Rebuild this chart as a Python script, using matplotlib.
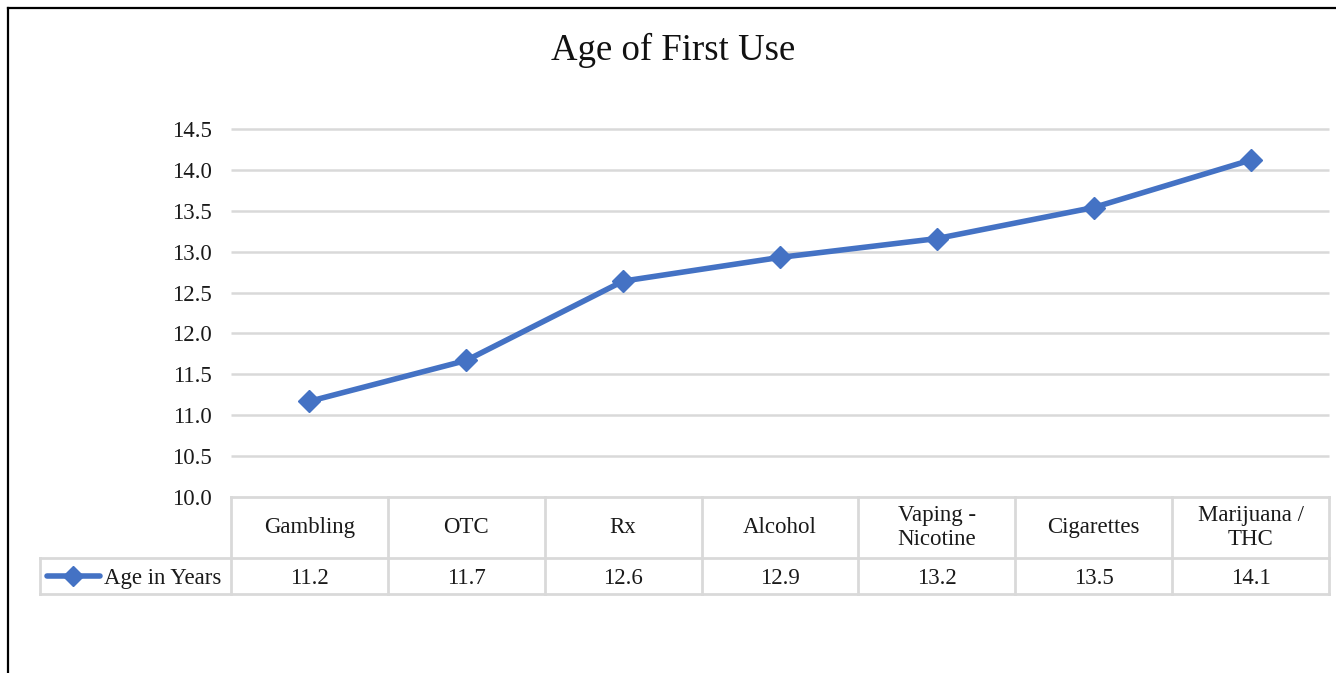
import matplotlib
matplotlib.use("Agg")
import matplotlib.pyplot as plt
from matplotlib.lines import Line2D

# Data
categories = ["Gambling", "OTC", "Rx", "Alcohol", "Vaping -\nNicotine", "Cigarettes", "Marijuana /\nTHC"]
ages = [11.17, 11.67, 12.64, 12.93, 13.16, 13.54, 14.12]
series_name = "Age in Years"
y_ticks = [10.0, 10.5, 11.0, 11.5, 12.0, 12.5, 13.0, 13.5, 14.0, 14.5]

W, H = 1336, 673
line_color = "#4472C4"
grid_color = "#d9d9d9"
text_color = "#1a1a1a"
font = "Liberation Serif"
fs = 16.5

plt.rcParams["font.family"] = [font, "DejaVu Serif"]

fig = plt.figure(figsize=(W / 100, H / 100), dpi=100)
fig.patch.set_facecolor("white")

# plot area in pixels
left_px, right_px, top_px, bottom_px = 231, 1329, 129, 497
ax = fig.add_axes([left_px / W, 1 - bottom_px / H, (right_px - left_px) / W, (bottom_px - top_px) / H])
ax.set_facecolor("white")

n = len(categories)
xs = list(range(n))
ax.plot(xs, ages, color=line_color, lw=4, marker="D", markersize=11.5,
        markerfacecolor=line_color, markeredgecolor=line_color, clip_on=False,
        solid_capstyle="round", zorder=5)

ax.set_xlim(-0.5, n - 0.5)
ax.set_ylim(y_ticks[0], y_ticks[-1])
ax.set_yticks(y_ticks)
ax.set_yticklabels([f"{t:.1f}" for t in y_ticks], fontsize=fs, color=text_color)
ax.set_xticks([])
ax.tick_params(axis="y", length=0, pad=14)
for s in ax.spines.values():
    s.set_visible(False)
for t in y_ticks[1:]:
    ax.axhline(t, color=grid_color, lw=1.8, zorder=1, clip_on=False, solid_capstyle="butt")

# Data table below the plot area
ph = bottom_px - top_px
r1 = -61 / ph   # bottom of header row
r2 = -97 / ph   # bottom of value row
leg_left = (40 - left_px) / (right_px - left_px)
tx = ax.get_xaxis_transform()
tbl_kw = dict(color=grid_color, lw=2, clip_on=False, zorder=2)

ax.plot([-0.5, n - 0.5], [0, 0], transform=tx, **tbl_kw)
ax.plot([leg_left, 1], [r1, r1], transform=ax.transAxes, **tbl_kw)
ax.plot([leg_left, 1], [r2, r2], transform=ax.transAxes, **tbl_kw)
ax.plot([leg_left, leg_left], [r1, r2], transform=ax.transAxes, **tbl_kw)
for i in range(n + 1):
    ax.plot([i - 0.5, i - 0.5], [0, r2], transform=tx, **tbl_kw)

for i, (c, v) in enumerate(zip(categories, ages)):
    ax.text(i, r1 / 2, c, transform=tx, ha="center", va="center",
            multialignment="center", fontsize=fs, color=text_color, linespacing=1.2)
    ax.text(i, (r1 + r2) / 2 - 0.006, f"{v:.1f}", transform=tx, ha="center", va="center",
            fontsize=fs, color=text_color)

# Legend key in the value row
ymid = (r1 + r2) / 2
kx0 = (47 - left_px) / (right_px - left_px)
kx1 = (100 - left_px) / (right_px - left_px)
ax.plot([kx0, kx1], [ymid, ymid], transform=ax.transAxes, color=line_color, lw=4,
        solid_capstyle="round", clip_on=False, zorder=5)
ax.plot([(kx0 + kx1) / 2], [ymid], transform=ax.transAxes, marker="D", markersize=10.5,
        color=line_color, clip_on=False, zorder=6)
ax.text((104 - left_px) / (right_px - left_px), ymid - 0.006, series_name, transform=ax.transAxes,
        ha="left", va="center", fontsize=fs, color=text_color)

# Title
fig.text(673 / W, 1 - 50 / H, "Age of First Use", ha="center", va="center",
         fontsize=26.5, color="#111111")

# Outer frame (top and left edges)
fig.add_artist(Line2D([8 / W, 1], [1 - 8 / H, 1 - 8 / H], transform=fig.transFigure,
                      color="black", lw=1.6))
fig.add_artist(Line2D([8 / W, 8 / W], [0, 1 - 8 / H], transform=fig.transFigure,
                      color="black", lw=1.6))

fig.savefig("out.png", dpi=100, facecolor="white")
